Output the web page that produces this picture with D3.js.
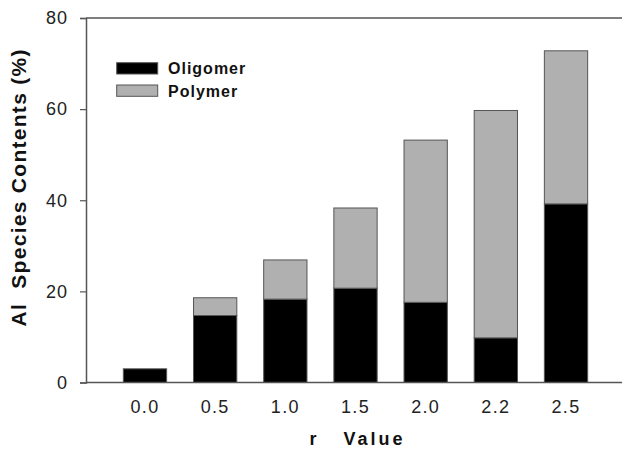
<!DOCTYPE html>
<html><head><meta charset="utf-8">
<script src="https://cdn.jsdelivr.net/npm/d3@7"></script>
<style>
body{margin:0;background:#fff;}
svg{display:block;}
text{font-family:"Liberation Sans",Arial,sans-serif;}
</style></head>
<body><svg id="c" width="622" height="450"></svg>
<script>
const categories = ["0.0","0.5","1.0","1.5","2.0","2.2","2.5"];
const oligomer = [3.0, 14.7, 18.3, 20.7, 17.6, 9.8, 39.2];
const polymer  = [0.0, 3.9, 8.6, 17.6, 35.6, 49.9, 33.6];
const yTicks = [0,20,40,60,80];
const seriesNames = ["Oligomer","Polymer"];
const seriesColors = ["#000000","#b0b0b0"];

(function(){
const svg = d3.select("#c");
const pL = 86, pR = 640, pT = 18, pB = 382.5;

const x = d3.scaleBand().domain(categories).range([109.9, 601.1]).paddingInner(0.383).paddingOuter(0.1915);
const y = d3.scaleLinear().domain([0,80]).range([pB, pT]);

const rows = categories.map((c,i)=>({cat:c, Oligomer:oligomer[i], Polymer:polymer[i]}));
const stacked = d3.stack().keys(seriesNames)(rows);

const g = svg.append("g");
stacked.forEach((s,si)=>{
  g.selectAll(null).data(s.filter(d=>d[1]-d[0]>0)).enter().append("rect")
    .attr("x", d=>x(d.data.cat))
    .attr("width", x.bandwidth())
    .attr("y", d=>y(d[1]))
    .attr("height", d=>y(d[0])-y(d[1]))
    .attr("fill", seriesColors[si])
    .attr("stroke", "#555")
    .attr("stroke-width", 1);
});

svg.append("line").attr("x1",pL).attr("x2",pR).attr("y1",pB).attr("y2",pB).attr("stroke","#555").attr("stroke-width",1.5);
svg.append("line").attr("x1",pL).attr("x2",pR).attr("y1",pT).attr("y2",pT).attr("stroke","#555").attr("stroke-width",1.5);

const yAxis = svg.append("g").attr("transform",`translate(${pL},0)`)
  .call(d3.axisLeft(y).tickValues(yTicks).tickSize(6).tickPadding(12).tickFormat(d3.format("d")));
yAxis.select(".domain").attr("stroke","#555").attr("stroke-width",1.5);
yAxis.selectAll(".tick line").attr("stroke","#555").attr("stroke-width",1.2);
yAxis.selectAll(".tick text").attr("font-size",18).attr("fill","#222").attr("letter-spacing","1px")
  .attr("font-family","'Liberation Sans',Arial,sans-serif");

const xAxis = svg.append("g").attr("transform",`translate(0,${pB})`)
  .call(d3.axisBottom(x).tickSize(0).tickPadding(18));
xAxis.select(".domain").remove();
xAxis.selectAll(".tick text").attr("font-size",18).attr("fill","#222").attr("letter-spacing","1.3px")
  .attr("font-family","'Liberation Sans',Arial,sans-serif");

svg.append("text").attr("x",356).attr("y",445).attr("text-anchor","middle")
  .attr("font-size",18).attr("font-weight","bold").attr("fill","#111")
  .attr("textLength",93).attr("lengthAdjust","spacing")
  .style("white-space","pre").text("r   Value");
svg.append("text").attr("transform","translate(26,188) rotate(-90)").attr("text-anchor","middle")
  .attr("font-size",21).attr("font-weight","bold").attr("fill","#111")
  .attr("textLength",277).attr("lengthAdjust","spacing")
  .style("white-space","pre").text("Al  Species Contents (%)");

const lg = svg.append("g");
seriesNames.forEach((n,i)=>{
  const yy = 62.7 + i*22.3;
  lg.append("rect").attr("x",116.7).attr("y",yy).attr("width",41).attr("height",11.3)
    .attr("fill",seriesColors[i]).attr("stroke","#555").attr("stroke-width",1);
  lg.append("text").attr("x",168).attr("y",yy+11.5).attr("font-size",16).attr("font-weight","bold")
    .attr("fill","#111").attr("letter-spacing","1px").text(n);
});
})();
</script></body></html>
